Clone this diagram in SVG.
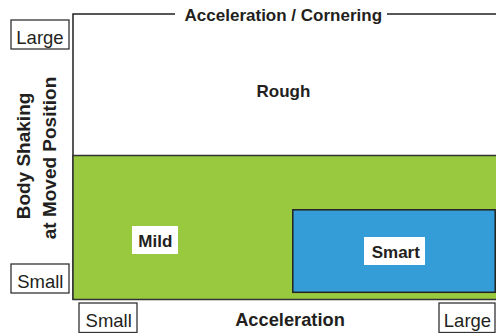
<svg xmlns="http://www.w3.org/2000/svg" width="496" height="333" viewBox="0 0 496 333">
<style>
.t{font-family:"Liberation Sans",Arial,sans-serif;fill:#231f20}
.b{font-weight:bold}
.box{fill:#fff;stroke:#333;stroke-width:1.3}
.ax{stroke:#231f20;stroke-width:1.5;fill:none}
</style>
<rect x="0" y="0" width="496" height="333" fill="#fff"/>
<g id="axes">
<polyline class="ax" points="175,14 73,14 73,300"/>
<line class="ax" x1="387" y1="14" x2="496" y2="14"/>
</g>
<g id="title"><text class="t b" x="283.3" y="20.5" font-size="17" text-anchor="middle">Acceleration / Cornering</text></g>
<g id="rough"><text class="t b" x="283.5" y="97" font-size="17" text-anchor="middle">Rough</text></g>
<g id="mild">
<rect x="73" y="155.5" width="424" height="144" fill="#99c93e" stroke="#333" stroke-width="1.5"/>
<rect x="132" y="226" width="46" height="28" fill="#fff"/>
<text class="t b" x="155.3" y="247" font-size="17" text-anchor="middle">Mild</text>
</g>
<g id="smart">
<rect x="292.8" y="209.8" width="202.4" height="82.5" fill="#349dd7" stroke="#222" stroke-width="1.5"/>
<rect x="364" y="237" width="61" height="28" fill="#fff"/>
<text class="t b" x="395.8" y="258" font-size="17" text-anchor="middle">Smart</text>
</g>
<g id="y-label">
<text class="t b" font-size="19" text-anchor="middle" transform="translate(30,156) rotate(-90)">Body Shaking</text>
<text class="t b" font-size="19" text-anchor="middle" transform="translate(56,158) rotate(-90)">at Moved Position</text>
</g>
<g id="y-large"><rect class="box" x="11" y="20" width="58" height="29"/><text class="t" x="40" y="44" font-size="18.5" text-anchor="middle">Large</text></g>
<g id="y-small"><rect class="box" x="11" y="264" width="58" height="29"/><text class="t" x="40.3" y="287.7" font-size="18.5" text-anchor="middle">Small</text></g>
<g id="x-small"><rect class="box" x="79" y="303" width="58" height="29.5"/><text class="t" x="108.7" y="326.7" font-size="18.5" text-anchor="middle">Small</text></g>
<g id="x-large"><rect class="box" x="439" y="303" width="56" height="29.5"/><text class="t" x="467.5" y="326.7" font-size="18.5" text-anchor="middle">Large</text></g>
<g id="x-label"><text class="t b" x="290" y="325.7" font-size="18.3" text-anchor="middle">Acceleration</text></g>
</svg>
